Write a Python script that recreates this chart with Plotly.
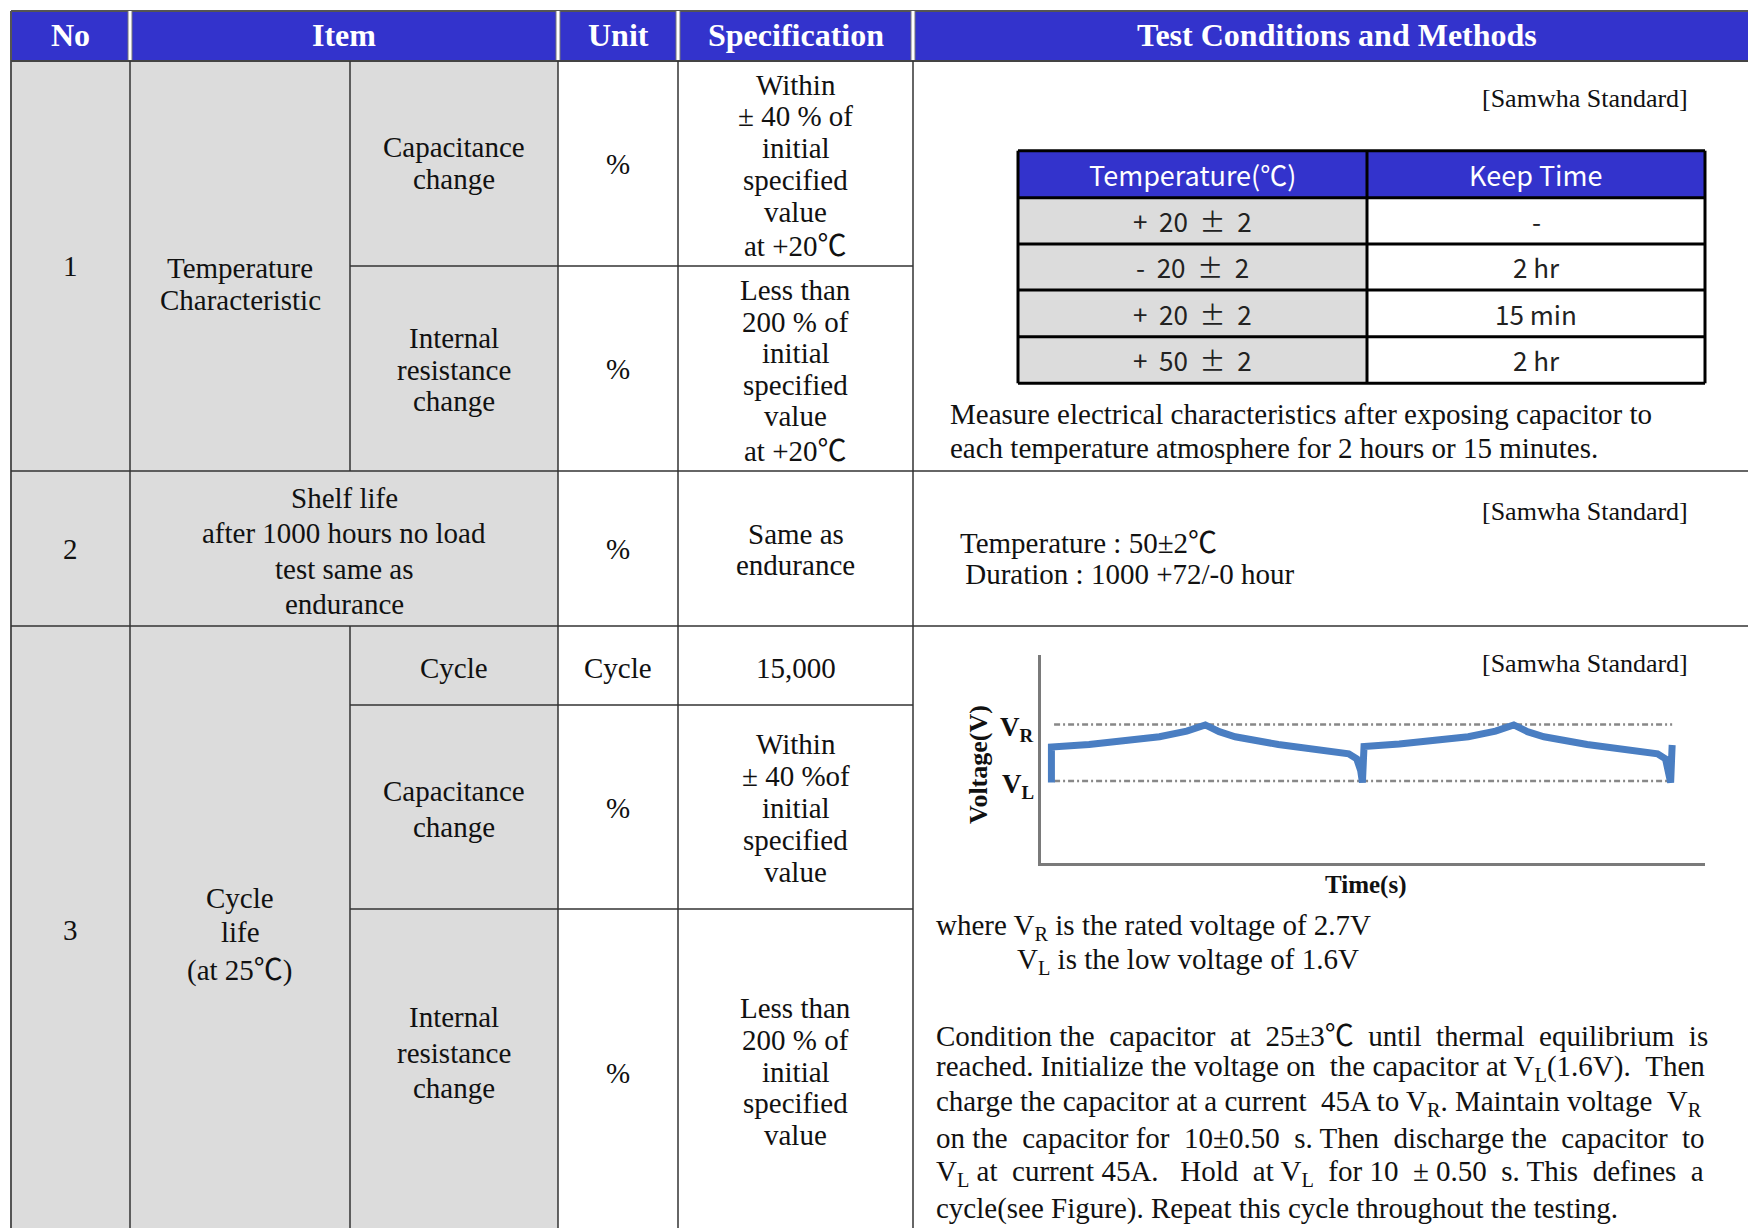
import plotly.graph_objects as go

W, H = 1748, 1228

# ---------------- data ----------------
header_labels = ["No", "Item", "Unit", "Specification", "Test Conditions and Methods"]
row_numbers = ["1", "2", "3"]
item_groups = [
    "Temperature<br>Characteristic",
    "Shelf life<br>after 1000 hours no load<br>test same as<br>endurance",
    "Cycle<br>life<br>(at 25℃)",
]
sub_items = [
    "Capacitance<br>change",
    "Internal<br>resistance<br>change",
    "Cycle",
    "Capacitance<br>change",
    "Internal<br>resistance<br>change",
]
units = ["%", "%", "%", "Cycle", "%", "%"]
specs = [
    "Within<br>± 40 % of<br>initial<br>specified<br>value<br>at +20℃",
    "Less than<br>200 % of<br>initial<br>specified<br>value<br>at +20℃",
    "Same as<br>endurance",
    "15,000",
    "Within<br>± 40 %of<br>initial<br>specified<br>value",
    "Less than<br>200 % of<br>initial<br>specified<br>value",
]
standard_label = "[Samwha Standard]"
temp_header = ["Temperature(℃)", "Keep Time"]
temp_values = ["+ 20 ± 2", "- 20 ± 2", "+ 20 ± 2", "+ 50 ± 2"]
keep_times = ["-", "2 hr", "15 min", "2 hr"]
temp_note = [
    "Measure electrical characteristics after exposing capacitor to",
    "each temperature atmosphere for 2 hours or 15 minutes.",
]
shelf_conditions = ["Temperature : 50±2℃", " Duration : 1000 +72/-0 hour"]
v_rated = 2.7
v_low = 1.6
cycle_time = [1.63, 1.63, 7.3, 13.0, 17.9, 22.0, 24.8, 26.9, 29.3, 35.8, 42.4, 46.4,
              47.6, 48.2, 48.46, 48.7, 54.0, 59.6, 64.4, 68.5, 71.25, 73.3, 75.8,
              82.3, 88.8, 92.9, 94.1, 94.6, 94.87, 95.1]
cycle_voltage = [1.57, 2.26, 2.31, 2.38, 2.46, 2.57, 2.69, 2.56, 2.46, 2.31, 2.21, 2.13,
                 2.03, 1.80, 1.57, 2.27, 2.32, 2.38, 2.46, 2.57, 2.69, 2.56, 2.46,
                 2.31, 2.21, 2.13, 2.03, 1.80, 1.57, 2.30]
cycle_notes = [
    "where V<sub>R</sub> is the rated voltage of 2.7V",
    "V<sub>L</sub> is the low voltage of 1.6V",
]
cycle_paragraph = [
    "Condition the capacitor at 25±3℃ until thermal equilibrium is",
    "reached. Initialize the voltage on the capacitor at V<sub>L</sub>(1.6V). Then",
    "charge the capacitor at a current 45A to V<sub>R</sub>. Maintain voltage V<sub>R</sub>",
    "on the capacitor for 10±0.50 s. Then discharge the capacitor to",
    "V<sub>L</sub> at current 45A.  Hold at V<sub>L</sub> for 10 ± 0.50 s. This defines a",
    "cycle(see Figure). Repeat this cycle throughout the testing.",
]

# ---------------- layout geometry / style ----------------
COLS = [11, 130, 350, 558, 678, 913, 1748]
TOP, HEAD_B = 11, 61
R1_MID, R1_B, R2_B, R3_A, R3_B, BOT = 266, 471, 626, 705, 909, 1228
TCOLS = [1018, 1367, 1705]
TROWS = [150.7, 197.7, 244, 290, 336.7, 383.3]
TTEXT_Y = [174, 220, 266.5, 313, 359.5]
PARA_EXTRA = [7, 2, 2, 6, 8, 0]   # extra spaces to imitate justified text

SERIF = "Liberation Serif, Times New Roman, serif"
CJK = "Noto Sans CJK KR"
BLUE = "#3333CC"
GRAY = "#DCDCDC"
LINE = "#333333"
TXT = "#111111"
BODY = 29

fig = go.Figure()
shapes = []
ann = []


def style_deg(s):
    return s.replace("℃", f"<span style=\"font-family:'{CJK}'\">℃</span>")


def justify(s, extra):
    if extra <= 0:
        return s
    words = s.split(" ")
    gaps = len(words) - 1
    out = words[0]
    for i in range(1, len(words)):
        k = (extra * i) // gaps - (extra * (i - 1)) // gaps
        out += " " + "\u00a0" * k + words[i]
    return out


def rect(x0, y0, x1, y1, color, layer="below"):
    shapes.append(dict(type="rect", xref="x", yref="y", x0=x0, y0=y0, x1=x1, y1=y1,
                       fillcolor=color, line=dict(width=0), layer=layer))


def line(x0, y0, x1, y1, color=LINE, width=1.5):
    shapes.append(dict(type="line", xref="x", yref="y", x0=x0, y0=y0, x1=x1, y1=y1,
                       line=dict(color=color, width=width), layer="above"))


def text_block(x, yc, text, gap, size=BODY, anchor="center", color=TXT, bold=False,
               family=SERIF):
    parts = text.split("<br>")
    n = len(parts)
    for i, p in enumerate(parts):
        y = yc + (i - (n - 1) / 2) * gap
        p = style_deg(p)
        t = f"<b>{p}</b>" if bold else p
        ann.append(dict(x=x, y=y, xref="x", yref="y", text=t, showarrow=False,
                        xanchor=anchor, yanchor="middle",
                        font=dict(family=family, size=size, color=color)))


# backgrounds
rect(COLS[0], TOP, W, HEAD_B, BLUE)
rect(COLS[0], HEAD_B, COLS[3], BOT, GRAY)

# header borders
line(COLS[0], TOP, W, TOP, "#555555", 2)
line(COLS[0], TOP, COLS[0], BOT, "#555555", 2)
for cx in [COLS[1], COLS[3], COLS[4], COLS[5]]:
    line(cx, TOP, cx, HEAD_B, "#777777", 5)
    line(cx, TOP, cx, HEAD_B, "white", 3)
line(COLS[0], HEAD_B, W, HEAD_B, "#444444", 2)

# horizontal grid
line(COLS[0], R1_B, W, R1_B)
line(COLS[0], R2_B, W, R2_B)
for yy in [R1_MID, R3_A, R3_B]:
    line(COLS[2], yy, COLS[5], yy)
# vertical grid
for cx in [COLS[1], COLS[3], COLS[4], COLS[5]]:
    line(cx, HEAD_B, cx, BOT)
line(COLS[2], HEAD_B, COLS[2], R1_B)
line(COLS[2], R2_B, COLS[2], BOT)

# header text
head_x = [70.5, 344, 618, 795.5, 1337]
for lab, hx in zip(header_labels, head_x):
    text_block(hx, 35, lab, 0, size=32, color="white", bold=True)

cx_no, cx_grp, cx_sub, cx_item, cx_unit, cx_spec = 70.5, 240, 454, 344, 618, 795.5

for num, yy in zip(row_numbers, [266, 549, 930]):
    text_block(cx_no, yy, num, 0)

text_block(cx_grp, 284, item_groups[0], 32.5)
text_block(cx_item, 551, item_groups[1], 35.4)
text_block(cx_grp, 932, item_groups[2], 34.5)

sub_pos = [(163, 32.5), (369.6, 31.8), (668, 0), (809, 35.5), (1052.5, 35.5)]
for s, (yy, g) in zip(sub_items, sub_pos):
    text_block(cx_sub, yy, s, g)

for u, yy in zip(units, [164, 369, 549, 668, 808, 1072.5]):
    text_block(cx_unit, yy, u, 0)

spec_pos = [(164, 31.7), (369, 31.6), (549.5, 31), (668, 0), (808, 32.1), (1071.5, 31.8)]
for s, (yy, g) in zip(specs, spec_pos):
    text_block(cx_spec, yy, s, g)

# test conditions
for yy in [98, 511, 663]:
    text_block(1690, yy, standard_label, 0, size=26, anchor="right")
text_block(948, 431, "<br>".join(temp_note), 34.5, anchor="left")
text_block(958, 540, shelf_conditions[0], 0, anchor="left")
text_block(956, 574, shelf_conditions[1], 0, anchor="left")
text_block(934, 927, cycle_notes[0], 0, anchor="left")
text_block(1015, 961, cycle_notes[1], 0, anchor="left")
para = [justify(s, e) for s, e in zip(cycle_paragraph, PARA_EXTRA)]
text_block(934, 1120.5, "<br>".join(para), 35.2, anchor="left")

# inner temperature table (cells drawn as shapes, texts from the arrays)
rect(TCOLS[0], TROWS[0], TCOLS[2], TROWS[1], BLUE, "above")
rect(TCOLS[0], TROWS[1], TCOLS[1], TROWS[-1], GRAY, "above")
for yy in TROWS:
    line(TCOLS[0], yy, TCOLS[2], yy, "black", 3)
for xx in TCOLS:
    line(xx, TROWS[0], xx, TROWS[-1], "black", 3)
tcx = [(TCOLS[0] + TCOLS[1]) / 2, (TCOLS[1] + TCOLS[2]) / 2]
for lab, xx in zip(temp_header, tcx):
    ann.append(dict(x=xx, y=TTEXT_Y[0], xref="x", yref="y", text=lab, showarrow=False,
                    xanchor="center", yanchor="middle",
                    font=dict(family=CJK, size=27, color="white")))
for i, (tv, kt) in enumerate(zip(temp_values, keep_times)):
    for lab, xx in zip([tv.replace(" ", "\u00a0 "), kt], tcx):
        ann.append(dict(x=xx, y=TTEXT_Y[i + 1], xref="x", yref="y", text=lab,
                        showarrow=False, xanchor="center", yanchor="middle",
                        font=dict(family=CJK, size=26, color="#222222")))

# cycle voltage chart
t0, t1 = min(cycle_time) + 0.4, max(cycle_time)
for v in [v_rated, v_low]:
    fig.add_trace(go.Scatter(x=[t0, t1], y=[v, v], mode="lines", xaxis="x2", yaxis="y2",
                             line=dict(color="#888888", width=2.5, dash="6px,3px,2px,3px"),
                             showlegend=False, hoverinfo="skip"))
fig.add_trace(go.Scatter(x=cycle_time, y=cycle_voltage, mode="lines", xaxis="x2", yaxis="y2",
                         line=dict(color="#4A7EC2", width=7), showlegend=False))

for lab, v in [("R", v_rated), ("L", v_low)]:
    ann.append(dict(x=1036, y=v, xref="x", yref="y2", text=f"<b>V<sub>{lab}</sub></b>",
                    showarrow=False, xanchor="right", yanchor="middle", yshift=-5,
                    font=dict(family=SERIF, size=27, color=TXT)))
ann.append(dict(x=978, y=765, xref="x", yref="y", text="<b>Voltage(V)</b>", textangle=-90,
                showarrow=False, xanchor="center", yanchor="middle",
                font=dict(family=SERIF, size=26, color=TXT)))
ann.append(dict(x=1365, y=885, xref="x", yref="y", text="<b>Time(s)</b>",
                showarrow=False, xanchor="center", yanchor="middle",
                font=dict(family=SERIF, size=25, color=TXT)))

fig.update_layout(
    width=W, height=H, margin=dict(l=0, r=0, t=0, b=0),
    paper_bgcolor="white", plot_bgcolor="rgba(0,0,0,0)", showlegend=False,
    xaxis=dict(range=[0, W], visible=False, fixedrange=True, domain=[0, 1]),
    yaxis=dict(range=[H, 0], visible=False, fixedrange=True, domain=[0, 1]),
    xaxis2=dict(domain=[1040.6 / W, 1704.7 / W], anchor="y2", range=[0, 100],
                showline=True, linecolor="#7a7a7a", linewidth=3, showgrid=False,
                zeroline=False, showticklabels=False, ticks="", fixedrange=True),
    yaxis2=dict(domain=[1 - 863.3 / H, 1 - 655 / H], anchor="x2", range=[0, 4.05],
                showline=True, linecolor="#7a7a7a", linewidth=3, showgrid=False,
                zeroline=False, showticklabels=False, ticks="", fixedrange=True),
    shapes=shapes, annotations=ann,
)

fig.write_html("out.html", config={"displayModeBar": False},
               post_script="document.body.style.margin='0';document.body.style.overflow='hidden';")
